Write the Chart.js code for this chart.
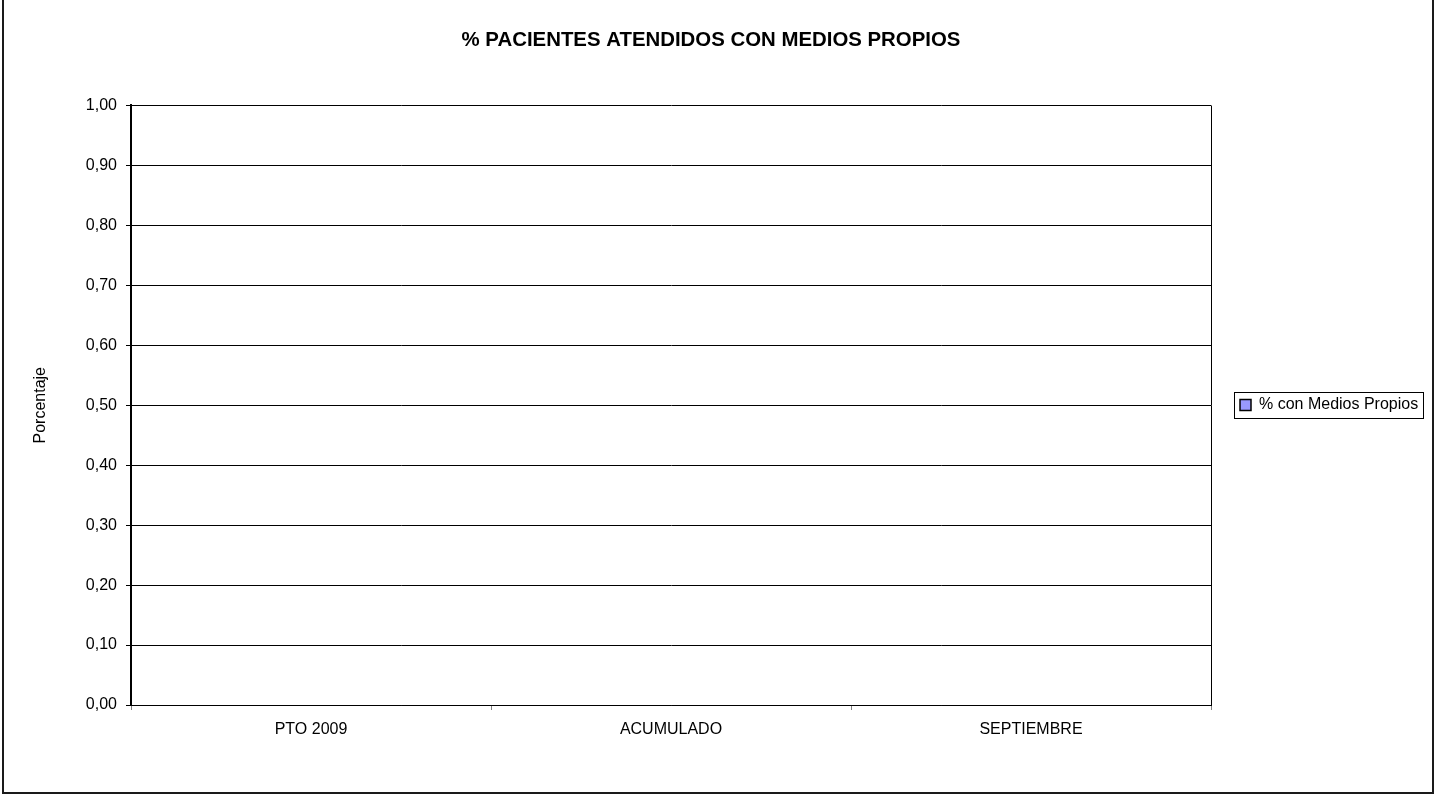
<!DOCTYPE html>
<html>
<head>
<meta charset="utf-8">
<script src="https://cdn.jsdelivr.net/npm/chart.js@4.4.1/dist/chart.umd.min.js"></script>
<style>
  html, body { margin: 0; padding: 0; background: #fff; }
  canvas { display: block; }
</style>
</head>
<body>
<canvas id="chart" width="1440" height="796"></canvas>
<script>
const chartTitle = "% PACIENTES ATENDIDOS CON MEDIOS PROPIOS";
const yTitle = "Porcentaje";
const categories = ["PTO 2009", "ACUMULADO", "SEPTIEMBRE"];
const seriesName = "% con Medios Propios";
const seriesValues = [0, 0, 0];
const yTicks = [0, 0.1, 0.2, 0.3, 0.4, 0.5, 0.6, 0.7, 0.8, 0.9, 1.0];

const FONT = "'Liberation Sans', Arial, sans-serif";

// white page + outer frame like the Excel chart area
const frame = {
  id: "frame",
  beforeDraw(chart) {
    const ctx = chart.ctx;
    ctx.save();
    ctx.fillStyle = "#fff";
    ctx.fillRect(0, 0, chart.width, chart.height);
    ctx.strokeStyle = "#1a1a1a";
    ctx.lineWidth = 2;
    ctx.strokeRect(3, -10, 1430, 803);
    ctx.restore();
  },
  afterDraw(chart) {
    const ctx = chart.ctx;
    const a = chart.chartArea;
    ctx.save();
    // right edge of the plot area
    ctx.strokeStyle = "#000";
    ctx.lineWidth = 1;
    ctx.beginPath();
    ctx.moveTo(Math.round(a.right) + 0.5, a.top);
    ctx.lineTo(Math.round(a.right) + 0.5, a.bottom);
    ctx.stroke();
    // box round the legend
    const hb = chart.legend.legendHitBoxes[0];
    if (hb) {
      const cy = hb.top + hb.height / 2;
      ctx.strokeRect(Math.round(hb.left - 6) + 0.5, Math.round(cy - 13) + 0.5, Math.round(hb.width + 11), 26);
    }
    ctx.restore();
  }
};

new Chart(document.getElementById("chart"), {
  type: "bar",
  data: {
    labels: categories,
    datasets: [{
      label: seriesName,
      data: seriesValues,
      backgroundColor: "#9999FF",
      borderColor: "#000",
      borderWidth: 1.5
    }]
  },
  options: {
    responsive: false,
    animation: false,
    devicePixelRatio: 1,
    layout: { padding: { left: 0, right: 18, top: 14, bottom: 0 } },
    plugins: {
      title: {
        display: true,
        text: chartTitle,
        color: "#000",
        font: { family: FONT, size: 20.4, weight: "bold" },
        padding: { top: 14, bottom: 53 }
      },
      legend: {
        position: "right",
        align: "center",
        maxWidth: 211,
        labels: {
          color: "#000",
          font: { family: FONT, size: 16 },
          boxWidth: 11,
          boxHeight: 11,
          padding: 29
        }
      },
      tooltip: { enabled: false }
    },
    scales: {
      x: {
        afterFit(scale) { scale.height = 91; },
        grid: {
          offset: true,
          drawOnChartArea: false,
          drawTicks: true,
          tickLength: 5,
          tickColor: "#808080"
        },
        border: { color: "#000", width: 1 },
        ticks: {
          color: "#000",
          font: { family: FONT, size: 16 },
          padding: 10,
          maxRotation: 0
        }
      },
      y: {
        min: 0,
        max: 1,
        afterFit(scale) { scale.width = 131; },
        afterBuildTicks(scale) { scale.ticks = yTicks.map(v => ({ value: v })); },
        grid: {
          color: "#000",
          lineWidth: 1,
          tickLength: 5,
          tickColor: "#000"
        },
        border: { color: "#000", width: 2 },
        ticks: {
          color: "#000",
          font: { family: FONT, size: 16 },
          padding: 9,
          callback: v => v.toFixed(2).replace(".", ",")
        },
        title: {
          display: true,
          text: yTitle,
          color: "#000",
          font: { family: FONT, size: 16 },
          padding: { top: 31, bottom: 0 }
        }
      }
    }
  },
  plugins: [frame]
});
</script>
</body>
</html>
